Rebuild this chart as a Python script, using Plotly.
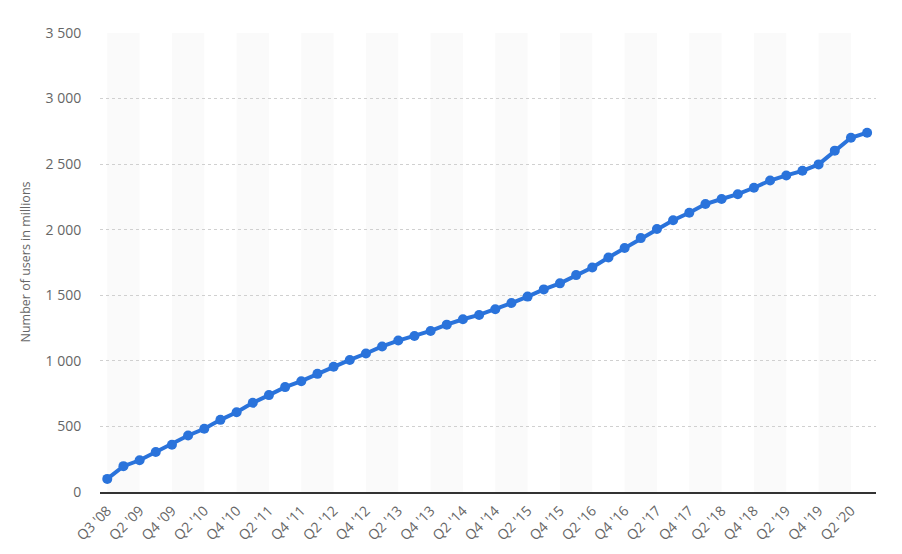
import plotly.graph_objects as go

quarters = ["Q3 '08", "Q1 '09", "Q2 '09", "Q3 '09", "Q4 '09",
            "Q1 '10", "Q2 '10", "Q3 '10", "Q4 '10",
            "Q1 '11", "Q2 '11", "Q3 '11", "Q4 '11",
            "Q1 '12", "Q2 '12", "Q3 '12", "Q4 '12",
            "Q1 '13", "Q2 '13", "Q3 '13", "Q4 '13",
            "Q1 '14", "Q2 '14", "Q3 '14", "Q4 '14",
            "Q1 '15", "Q2 '15", "Q3 '15", "Q4 '15",
            "Q1 '16", "Q2 '16", "Q3 '16", "Q4 '16",
            "Q1 '17", "Q2 '17", "Q3 '17", "Q4 '17",
            "Q1 '18", "Q2 '18", "Q3 '18", "Q4 '18",
            "Q1 '19", "Q2 '19", "Q3 '19", "Q4 '19",
            "Q1 '20", "Q2 '20", "Q3 '20"]
users = [100, 197, 242, 305, 360,
         431, 482, 550, 608,
         680, 739, 800, 845,
         901, 955, 1007, 1056,
         1110, 1155, 1189, 1228,
         1276, 1317, 1350, 1393,
         1441, 1490, 1545, 1591,
         1654, 1712, 1788, 1860,
         1936, 2006, 2072, 2129,
         2196, 2234, 2271, 2320,
         2375, 2414, 2449, 2498,
         2603, 2701, 2740]
y_ticks = [0, 500, 1000, 1500, 2000, 2500, 3000, 3500]

idx = list(range(len(quarters)))
label_idx = idx[::2]

fig = go.Figure()
fig.add_trace(go.Scatter(
    x=idx, y=users, mode="lines+markers",
    line=dict(color="#2a73db", width=4),
    marker=dict(color="#2a73db", size=10),
    hoverinfo="skip", showlegend=False,
))

shapes = []
for i in range(0, len(quarters) - 2, 4):
    shapes.append(dict(type="rect", xref="x", yref="paper", x0=i, x1=i + 2,
                       y0=0, y1=1, fillcolor="#fafafa", line=dict(width=0),
                       layer="below"))

fig.update_layout(
    width=902, height=554,
    margin=dict(l=92, r=34, t=25, b=70),
    paper_bgcolor="white", plot_bgcolor="white",
    separators=". ",
    font=dict(family="Open Sans", color="#666666"),
    shapes=shapes,
    xaxis=dict(
        range=[-0.45, 47.55],
        tickvals=label_idx,
        ticktext=[quarters[i] for i in label_idx],
        tickangle=-45,
        tickfont=dict(size=14, color="#666666"),
        showgrid=False, zeroline=False,
        showline=True, linecolor="#333333", linewidth=2,
        ticks="outside", ticklen=3, tickcolor="rgba(0,0,0,0)",
        automargin=False, fixedrange=True,
    ),
    yaxis=dict(
        range=[0, 3500],
        tickvals=y_ticks,
        tickformat=",d",
        tickfont=dict(size=14, color="#666666"),
        showgrid=True, gridcolor="#d0d0d0", griddash="dot", gridwidth=1,
        zeroline=False, showline=False,
        ticks="outside", ticklen=15, tickcolor="rgba(0,0,0,0)",
        automargin=False, fixedrange=True,
    ),
    annotations=[dict(
        text="Number of users in millions", xref="paper", yref="paper",
        x=(17 - 92) / 776, y=0.5, textangle=-90, showarrow=False,
        font=dict(size=12.5, color="#666666"), xanchor="center", yanchor="middle",
    )],
)

fig.write_html("out.html")
